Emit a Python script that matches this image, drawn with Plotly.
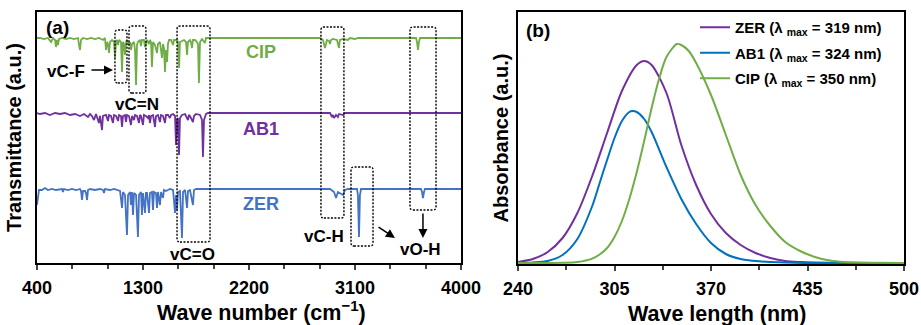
import plotly.graph_objects as go

# ---------------- FT-IR data (panel a) ----------------
ir_wn_cip = [400, 425, 459, 493, 519, 536, 553, 561, 570, 578, 587, 612, 646, 680, 714, 748, 757, 765, 774, 791,
             825, 858, 892, 926, 960, 977, 986, 994, 1003, 1011, 1020, 1037, 1054, 1062, 1071, 1079, 1088, 1096,
             1113, 1122, 1130, 1139, 1147, 1156, 1164, 1181, 1190, 1198, 1207, 1224, 1232, 1241, 1249, 1257, 1274,
             1283, 1291, 1308, 1317, 1325, 1334, 1351, 1359, 1368, 1376, 1385, 1402, 1419, 1427, 1444, 1461, 1470,
             1478, 1487, 1495, 1504, 1512, 1521, 1538, 1555, 1563, 1589, 1597, 1606, 1614, 1631, 1648, 1665, 1674,
             1682, 1699, 1707, 1716, 1724, 1741, 1758, 1767, 1775, 1784, 1801, 1826, 1835, 1869, 2803, 2828, 2845,
             2862, 2879, 2888, 2896, 2913, 2947, 2964, 2972, 2998, 3040, 3057, 3100, 3125, 3618, 3626, 3635, 3643,
             3652, 4000]
ir_t_cip = [225, 225, 224, 225, 221, 225, 223, 216, 223, 218, 224, 225, 224, 225, 224, 225, 218, 213, 223, 225,
            224, 225, 224, 225, 223, 225, 213, 221, 219, 210, 221, 223, 221, 205, 221, 223, 218, 223,
            221, 191, 221, 219, 208, 221, 223, 218, 221, 213, 219, 221, 213, 178, 218, 221, 223,
            217, 223, 223, 216, 221, 223, 219, 223, 221, 196, 221, 218, 210, 219, 221, 205, 219,
            215, 191, 213, 201, 219, 223, 223, 218, 223, 223, 221, 195, 221, 222, 223, 221, 208,
            221, 223, 221, 215, 223, 223, 221, 219, 180, 221, 224, 220, 225, 225, 225, 223, 215,
            223, 222, 219, 223, 224, 223, 215, 223, 224, 223, 225, 224, 225, 225, 221, 213, 221,
            225, 225]

ir_wn_ab1 = [400, 425, 468, 510, 553, 595, 638, 680, 723, 765, 799, 833, 850, 867, 884, 901, 926, 935, 952, 960,
             986, 1003, 1011, 1028, 1045, 1054, 1071, 1088, 1096, 1113, 1122, 1130, 1147, 1156, 1164, 1181, 1198,
             1207, 1224, 1232, 1249, 1266, 1274, 1283, 1300, 1308, 1325, 1342, 1351, 1359, 1368, 1385, 1402, 1410,
             1427, 1444, 1453, 1470, 1487, 1495, 1512, 1529, 1538, 1555, 1572, 1580, 1589, 1597, 1606, 1614, 1631,
             1657, 1682, 1690, 1699, 1724, 1733, 1750, 1784, 1801, 1809, 1818, 1835, 1852, 2888, 2905, 2913, 2922,
             2939, 2955, 2964, 2998, 3015, 4000]
ir_t_ab1 = [150, 149, 150, 148, 150, 149, 150, 148, 149, 147, 149, 146, 149, 147, 143, 149, 140, 147, 133, 147,
            148, 142, 148, 147, 140, 148, 147, 142, 148, 147, 136, 147, 148, 141, 148, 147, 138,
            147, 143, 148, 147, 140, 148, 147, 138, 148, 147, 145, 148, 140, 147, 148, 136, 147,
            148, 141, 148, 147, 140, 148, 148, 145, 148, 149, 147, 118, 143, 145, 108, 145, 148,
            149, 143, 148, 147, 141, 147, 149, 148, 143, 106, 143, 149, 150, 150, 146, 148, 145,
            148, 146, 149, 148, 150, 150]

ir_wn_zer = [400, 408, 417, 442, 468, 493, 527, 561, 595, 612, 621, 629, 663, 697, 731, 765, 774, 782, 791, 808,
             816, 825, 833, 850, 892, 935, 960, 969, 977, 1020, 1054, 1088, 1105, 1122, 1130, 1147, 1164, 1173,
             1190, 1198, 1207, 1215, 1224, 1241, 1257, 1266, 1283, 1291, 1300, 1317, 1325, 1334, 1351, 1359, 1376,
             1385, 1393, 1410, 1419, 1427, 1444, 1453, 1470, 1478, 1495, 1512, 1529, 1555, 1572, 1580, 1589, 1597,
             1614, 1631, 1640, 1657, 1674, 1682, 1699, 1724, 1733, 1750, 2888, 2922, 2939, 2955, 2972, 2998, 3015,
             3040, 3117, 3125, 3134, 3142, 3151, 3660, 3669, 3677, 3686, 3694, 4000]
ir_t_zer = [58, 68, 73, 73, 75, 73, 74, 73, 74, 74, 71, 74, 73, 74, 73, 74, 72, 63, 72, 72,
            70, 63, 73, 74, 73, 74, 73, 70, 74, 73, 74, 73, 72, 55, 71, 68, 28, 68,
            71, 58, 71, 48, 70, 68, 26, 68, 71, 48, 70, 50, 70, 70, 50, 70, 71,
            53, 71, 70, 55, 71, 58, 71, 65, 73, 72, 73, 74, 73, 50, 68, 53, 71,
            72, 25, 71, 73, 55, 72, 73, 58, 73, 74, 74, 71, 65, 71, 70, 68, 73,
            74, 74, 68, 26, 68, 74, 74, 71, 65, 71, 74, 74]

ir_ticks = [400, 1300, 2200, 3100, 4000]

# ---------------- UV-Vis data (panel b) ----------------
uv_nm_zer = [240, 250, 260, 270, 280, 290, 300, 310, 320, 325, 330, 340, 350, 360, 370, 380, 390, 400, 410,
             420, 430, 440, 460, 480, 500]
uv_abs_zer = [1, 4, 11, 25, 50, 87, 130, 172, 198, 202, 198, 170, 118, 78, 49, 30, 18, 10, 5,
              2, 1, 0.5, 0.2, 0, 0]
uv_nm_ab1 = [240, 250, 260, 270, 280, 290, 295, 300, 305, 310, 315, 317, 320, 325, 330, 340, 350, 360, 370,
             380, 390, 400, 410, 420, 440, 500]
uv_abs_ab1 = [0, 0.5, 2, 8, 24, 57, 80, 103, 125, 142, 151, 152, 151, 144, 131, 96, 64, 39, 20,
              9, 4, 2, 1, 0.4, 0, 0]
uv_nm_cip = [240, 260, 270, 280, 290, 295, 300, 305, 310, 315, 320, 325, 330, 335, 340, 347, 350, 355, 360,
             370, 380, 390, 400, 410, 420, 430, 440, 450, 460, 480, 500]
uv_abs_cip = [0, 0, 0.2, 1, 4.4, 8.5, 15, 26, 42, 64, 91, 122, 155, 184, 206, 219, 218, 212, 200,
              168, 128, 88, 58, 37, 21, 12, 6, 2.5, 1, 0.3, 0]
uv_ticks = [240, 305, 370, 435, 500]
uv_labels = ["ZER (λ <sub>max</sub> = 319 nm)", "AB1 (λ <sub>max</sub> = 324 nm)", "CIP (λ <sub>max</sub> = 350 nm)"]

GREEN = "#70AD47"
PURPLE = "#7030A0"
BLUE_A = "#4472C4"
BLUE_B = "#0070C0"
FONT = "Liberation Sans, Arial, sans-serif"

fig = go.Figure()

# panel (a)
for wn, t, c in [(ir_wn_cip, ir_t_cip, GREEN), (ir_wn_ab1, ir_t_ab1, PURPLE), (ir_wn_zer, ir_t_zer, BLUE_A)]:
    fig.add_trace(go.Scatter(x=wn, y=t, mode="lines", line=dict(color=c, width=1.8),
                             showlegend=False, xaxis="x", yaxis="y"))

# panel (b)
for i, (nm, a, c) in enumerate([(uv_nm_zer, uv_abs_zer, PURPLE), (uv_nm_ab1, uv_abs_ab1, BLUE_B),
                                (uv_nm_cip, uv_abs_cip, GREEN)]):
    fig.add_trace(go.Scatter(x=nm, y=a, mode="lines", name=uv_labels[i], legendgroup=str(i),
                             line=dict(color=c, width=2, shape="spline", smoothing=0.8),
                             xaxis="x2", yaxis="y2"))

axis_common = dict(showline=True, mirror=True, linecolor="black", linewidth=1.5, showgrid=False,
                   zeroline=False, automargin=False)
fig.update_layout(
    width=921, height=325, margin=dict(l=0, r=0, t=0, b=0),
    paper_bgcolor="white", plot_bgcolor="white",
    font=dict(family=FONT, color="black", weight="bold"),
    xaxis=dict(domain=[37 / 921, 461 / 921], range=[400, 4000], anchor="y",
               tickmode="array", tickvals=ir_ticks, ticks="outside", ticklen=5, tickwidth=1.5,
               minor=dict(ticks="outside", dtick=300, tick0=400, ticklen=4, tickwidth=1.5),
               tickfont=dict(size=18), ticklabelstandoff=3,
               **axis_common),
    yaxis=dict(domain=[62 / 325, 313 / 325], range=[0, 251], anchor="x", showticklabels=False, ticks="",
               title=dict(text="Transmittance (a.u.)", font=dict(size=20), standoff=8),
               **axis_common),
    xaxis2=dict(domain=[518 / 921, 904 / 921], range=[240, 500], anchor="y2",
                tickmode="array", tickvals=uv_ticks, ticks="outside", ticklen=5, tickwidth=1.5,
                minor=dict(ticks="outside", dtick=32.5, tick0=240, ticklen=4, tickwidth=1.5),
                tickfont=dict(size=18), ticklabelstandoff=3,
                **axis_common),
    yaxis2=dict(domain=[61 / 325, 313 / 325], range=[-1, 251], anchor="x2", showticklabels=False, ticks="",
                title=dict(text="Absorbance (a.u.)", font=dict(size=20), standoff=2),
                **axis_common),
    legend=dict(x=695 / 921, y=1 - 11 / 325, xanchor="left", yanchor="top", bgcolor="rgba(0,0,0,0)",
                font=dict(size=15, weight="bold"), traceorder="grouped", tracegroupgap=3,
                itemwidth=30),
)

# x-axis titles
fig.add_annotation(text="Wave number (cm<sup>−1</sup>)", x=261 / 921, y=1 - 311 / 325, xref="paper",
                   yref="paper", showarrow=False, xanchor="center", yanchor="middle",
                   font=dict(size=21.5, color="black", family=FONT, weight="bold"))
fig.add_annotation(text="Wave length (nm)", x=717 / 921, y=1 - 314 / 325, xref="paper",
                   yref="paper", showarrow=False, xanchor="center", yanchor="middle",
                   font=dict(size=21.5, color="black", family=FONT, weight="bold"))


def rounded_box(x0, x1, y0, y1, rx=25, ry=3):
    return (f"M {x0 + rx},{y0} L {x1 - rx},{y0} Q {x1},{y0} {x1},{y0 + ry} L {x1},{y1 - ry} "
            f"Q {x1},{y1} {x1 - rx},{y1} L {x0 + rx},{y1} Q {x0},{y1} {x0},{y1 - ry} L {x0},{y0 + ry} "
            f"Q {x0},{y0} {x0 + rx},{y0} Z")


boxes = [(1062, 1164, 180, 233), (1181, 1325, 170, 237), (1589, 1869, 21, 237),
         (2811, 3006, 45, 236), (3567, 3788, 53, 236), (3066, 3253, 17, 96)]
for x0, x1, y0, y1 in boxes:
    fig.add_shape(type="path", path=rounded_box(x0, x1, y0, y1), xref="x", yref="y",
                  line=dict(color="black", width=1.4, dash="2px,1.5px"))

txt = dict(size=17, color="black", family=FONT, weight="bold")
labels = [("vC-F", 646, 192), ("vC=N", 1249, 159), ("vC=O", 1716, 9), ("vC-H", 2837, 27), ("vO-H", 3652, 14)]
for t, x, y in labels:
    fig.add_annotation(text=t, x=x, y=y, xref="x", yref="y", showarrow=False, font=txt)

for t, c, y in [("CIP", GREEN, 211), ("AB1", PURPLE, 134), ("ZER", BLUE_A, 59)]:
    fig.add_annotation(text=t, x=2300, y=y, xref="x", yref="y", showarrow=False,
                       font=dict(size=18, color=c, family=FONT, weight="bold"))

arrows = [(850, 193, 1045, 193), (3287, 37, 3439, 25), (3677, 51, 3677, 25)]
for ax, ay, x, y in arrows:
    fig.add_annotation(x=x, y=y, ax=ax, ay=ay, xref="x", yref="y", axref="x", ayref="y", text="",
                       showarrow=True, arrowhead=2, arrowsize=1.2, arrowwidth=1.5, arrowcolor="black")

fig.add_annotation(text="(a)", x=578, y=236, xref="x", yref="y", showarrow=False,
                   font=dict(size=19, color="black", family=FONT, weight="bold"))
fig.add_annotation(text="(b)", x=253.5, y=233, xref="x2", yref="y2", showarrow=False,
                   font=dict(size=19, color="black", family=FONT, weight="bold"))

fig.write_html("out.html")
